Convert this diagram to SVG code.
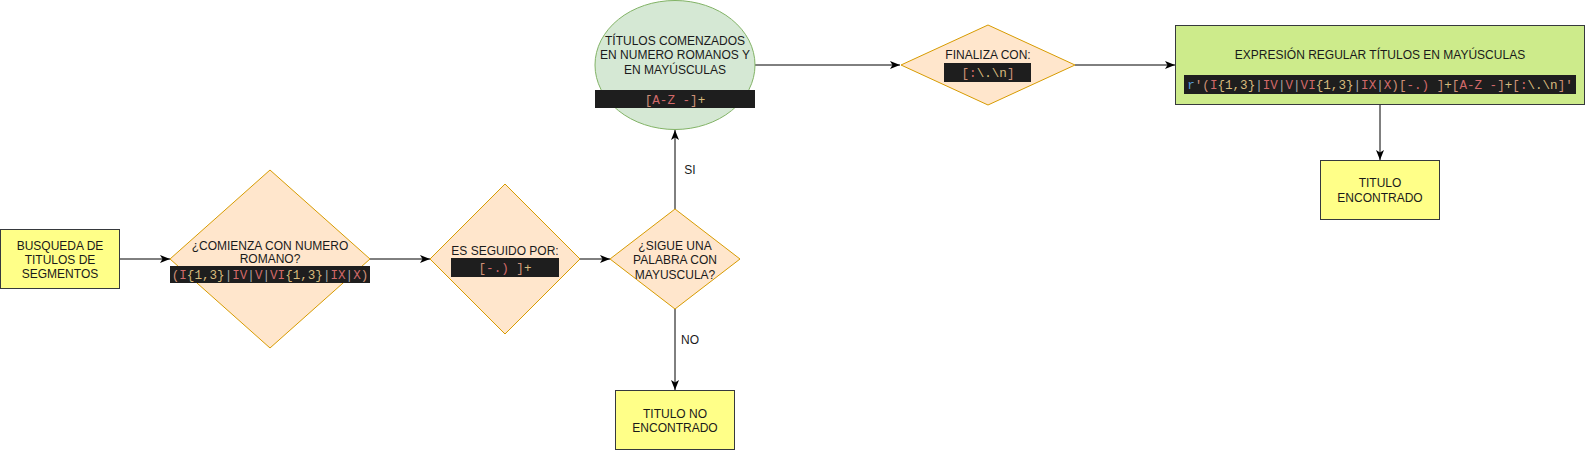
<svg xmlns="http://www.w3.org/2000/svg" width="1586" height="451" viewBox="0 0 1586 451">
<style>
.lbl{font-family:"Liberation Sans",Arial,sans-serif;font-size:12px;fill:#1a1a1a;text-anchor:middle}
.code{font-family:"Liberation Mono","DejaVu Sans Mono",monospace;font-size:12.6px;text-anchor:middle;fill:#d4d4d4}
.cb{fill:#1e1e1e}
.dia{fill:#ffe6cc;stroke:#d79b00;stroke-width:1}
.yel{fill:#ffff88;stroke:#36393d;stroke-width:1}
.p{fill:#ce9178}.l{fill:#d16969}.q{fill:#d7ba7d}.o{fill:#a8a8a8}.r{fill:#569cd6}
.edge{stroke:#000;stroke-width:1;fill:none}
</style>
<defs>
<marker id="arr" markerUnits="userSpaceOnUse" markerWidth="10" markerHeight="10" viewBox="0 0 10 10" refX="10" refY="5" orient="auto">
<path d="M0,1 L10,5 L0,9 L2.5,5 z" fill="#000"/>
</marker>
</defs>
<rect width="1586" height="451" fill="#ffffff"/>
<g id="connectors">
<path class="edge" d="M120,259 H170" marker-end="url(#arr)"/>
<path class="edge" d="M370,259 H430" marker-end="url(#arr)"/>
<path class="edge" d="M580,259 H610" marker-end="url(#arr)"/>
<path class="edge" d="M675,209 V130" marker-end="url(#arr)"/>
<path class="edge" d="M675,309 V390" marker-end="url(#arr)"/>
<path class="edge" d="M755,65 H900" marker-end="url(#arr)"/>
<path class="edge" d="M1075,65 H1175" marker-end="url(#arr)"/>
<path class="edge" d="M1380,105 V160" marker-end="url(#arr)"/>
<text class="lbl" x="690" y="174">SI</text>
<text class="lbl" x="690" y="344">NO</text>
</g>
<g id="busqueda">
<rect class="yel" x="0.5" y="229.5" width="119" height="59"/>
<text class="lbl" x="60" y="249.5">BUSQUEDA DE</text>
<text class="lbl" x="60" y="263.5">TITULOS DE</text>
<text class="lbl" x="60" y="277.5">SEGMENTOS</text>
</g>
<g id="comienza">
<polygon class="dia" points="270,170 370,259 270,348 170,259"/>
<text class="lbl" x="270" y="249.5">¿COMIENZA CON NUMERO</text>
<text class="lbl" x="270" y="262.5">ROMANO?</text>
<rect class="cb" x="170" y="266" width="200" height="17"/>
<text class="code" x="270" y="279" xml:space="preserve"><tspan class="p">(</tspan><tspan class="l">I</tspan><tspan class="q">{1,3}</tspan><tspan class="o">|</tspan><tspan class="l">IV</tspan><tspan class="o">|</tspan><tspan class="l">V</tspan><tspan class="o">|</tspan><tspan class="l">VI</tspan><tspan class="q">{1,3}</tspan><tspan class="o">|</tspan><tspan class="l">IX</tspan><tspan class="o">|</tspan><tspan class="l">X</tspan><tspan class="p">)</tspan></text>
</g>
<g id="seguido">
<polygon class="dia" points="505,184 580,259 505,334 430,259"/>
<text class="lbl" x="505" y="255">ES SEGUIDO POR:</text>
<rect class="cb" x="451" y="258" width="108" height="19"/>
<text class="code" x="505" y="272" xml:space="preserve"><tspan class="p">[</tspan><tspan class="l">-.) </tspan><tspan class="p">]</tspan><tspan class="q">+</tspan></text>
</g>
<g id="sigue">
<polygon class="dia" points="675,209 740,259 675,309 610,259"/>
<text class="lbl" x="675" y="249.5">¿SIGUE UNA</text>
<text class="lbl" x="675" y="264">PALABRA CON</text>
<text class="lbl" x="675" y="278.5">MAYUSCULA?</text>
</g>
<g id="no-encontrado">
<rect class="yel" x="615.5" y="390.5" width="119" height="59"/>
<text class="lbl" x="675" y="417.5">TITULO NO</text>
<text class="lbl" x="675" y="431.5">ENCONTRADO</text>
</g>
<g id="titulos">
<ellipse cx="675" cy="65" rx="80" ry="64.5" fill="#d5e8d4" stroke="#82b366" stroke-width="1"/>
<text class="lbl" x="675" y="45">TÍTULOS COMENZADOS</text>
<text class="lbl" x="675" y="59.3">EN NUMERO ROMANOS Y</text>
<text class="lbl" x="675" y="73.6">EN MAYÚSCULAS</text>
<rect class="cb" x="595" y="90" width="160" height="18"/>
<text class="code" x="675" y="103.5" xml:space="preserve"><tspan class="p">[</tspan><tspan class="l">A-Z -</tspan><tspan class="p">]</tspan><tspan class="q">+</tspan></text>
</g>
<g id="finaliza">
<polygon class="dia" points="988,25 1075,65 988,105 901,65"/>
<text class="lbl" x="988" y="59.3">FINALIZA CON:</text>
<rect class="cb" x="944" y="63" width="87" height="19"/>
<text class="code" x="988" y="77" xml:space="preserve"><tspan class="p">[</tspan><tspan class="l">:</tspan><tspan class="q">\.\n</tspan><tspan class="p">]</tspan></text>
</g>
<g id="expresion">
<rect x="1175.5" y="25.5" width="409" height="79" fill="#cdeb8b" stroke="#36393d" stroke-width="1"/>
<text class="lbl" x="1380" y="59.3">EXPRESIÓN REGULAR TÍTULOS EN MAYÚSCULAS</text>
<rect class="cb" x="1184" y="75" width="392" height="19"/>
<text class="code" x="1380" y="89" xml:space="preserve"><tspan class="r">r</tspan><tspan class="p">'(</tspan><tspan class="l">I</tspan><tspan class="q">{1,3}</tspan><tspan class="o">|</tspan><tspan class="l">IV</tspan><tspan class="o">|</tspan><tspan class="l">V</tspan><tspan class="o">|</tspan><tspan class="l">VI</tspan><tspan class="q">{1,3}</tspan><tspan class="o">|</tspan><tspan class="l">IX</tspan><tspan class="o">|</tspan><tspan class="l">X</tspan><tspan class="p">)[</tspan><tspan class="l">-.) </tspan><tspan class="p">]</tspan><tspan class="q">+</tspan><tspan class="p">[</tspan><tspan class="l">A-Z -</tspan><tspan class="p">]</tspan><tspan class="q">+</tspan><tspan class="p">[</tspan><tspan class="l">:</tspan><tspan class="q">\.\n</tspan><tspan class="p">]'</tspan></text>
</g>
<g id="encontrado">
<rect class="yel" x="1320.5" y="160.5" width="119" height="59"/>
<text class="lbl" x="1380" y="187">TITULO</text>
<text class="lbl" x="1380" y="201.5">ENCONTRADO</text>
</g>
</svg>
